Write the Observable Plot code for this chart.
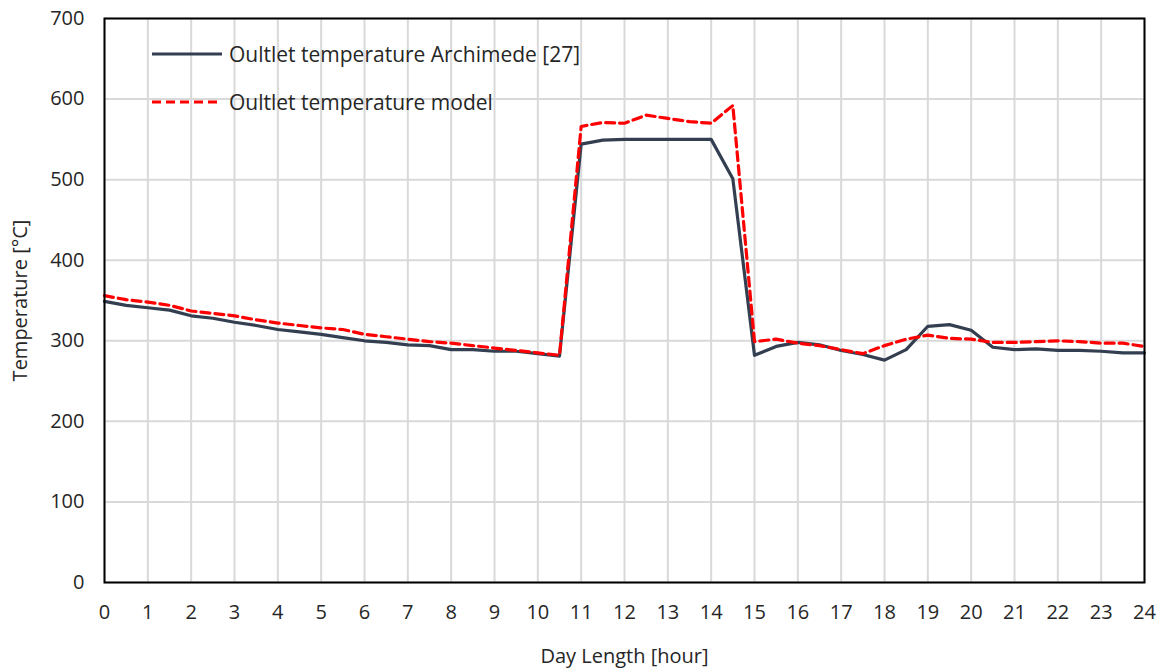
<!DOCTYPE html>
<html>
<head>
<meta charset="utf-8">
<script src="https://cdn.jsdelivr.net/npm/d3@7"></script>
<script src="https://cdn.jsdelivr.net/npm/@observablehq/plot@0.6"></script>
<style>
  html, body { margin: 0; padding: 0; background: #fff; }
  #wrap { position: relative; width: 1170px; height: 670px; font-family: "Open Sans", sans-serif; }
  .legend { position: absolute; left: 152px; top: 30px; font-size: 21px; color: #262626; }
  .legend .row { display: flex; align-items: center; height: 48px; }
  .legend svg { margin-right: 5px; }
</style>
</head>
<body>
<div id="wrap"></div>
<script>
// Hours of the day, sampled every half hour
const hours = [0,0.5,1,1.5,2,2.5,3,3.5,4,4.5,5,5.5,6,6.5,7,7.5,8,8.5,9,9.5,10,10.5,11,11.5,12,12.5,13,13.5,14,14.5,15,15.5,16,16.5,17,17.5,18,18.5,19,19.5,20,20.5,21,21.5,22,22.5,23,23.5,24];

// Outlet temperature measured at the Archimede plant [°C]
const archimede = [349,344,341,338,331,328,323,319,314,311,308,304,300,298,295,294,289,289,287,287,284,281,
  544,549,550,550,550,550,550,501,282,293,298,295,288,283,276,289,318,320,313,292,289,290,288,288,287,285,285];

// Outlet temperature predicted by the model [°C]
const model = [356,351,348,344,337,334,331,326,322,319,316,314,308,305,302,299,297,294,291,288,285,282,
  566,571,570,580,576,572,570,592,299,302,297,294,289,284,294,302,307,303,302,298,298,299,300,299,297,297,293];

const xTicks = d3.range(0, 25, 1);
const yTicks = d3.range(0, 701, 100);

const seriesNames = ["Oultlet temperature Archimede [27]", "Oultlet temperature model"];
const rows = hours.map((h, i) => ({hour: h, archimede: archimede[i], model: model[i]}));

const chart = Plot.plot({
  width: 1170,
  height: 670,
  marginLeft: 104,
  marginRight: 26,
  marginTop: 18,
  marginBottom: 88,
  style: {fontFamily: "'Open Sans', sans-serif", fontSize: "20px", color: "#262626", background: "#fff"},
  x: {domain: [0, 24]},
  y: {domain: [0, 700]},
  marks: [
    Plot.gridX(xTicks, {stroke: "#d9d9d9", strokeOpacity: 1, strokeWidth: 2}),
    Plot.gridY(yTicks, {stroke: "#d9d9d9", strokeOpacity: 1, strokeWidth: 2}),
    Plot.axisX(xTicks, {tickSize: 0, tickPadding: 22, tickFormat: d => String(d),
      label: "Day Length [hour]", labelAnchor: "center", labelArrow: "none", labelOffset: 80}),
    Plot.axisY(yTicks, {tickSize: 0, tickPadding: 20, tickFormat: d => String(d),
      label: "Temperature [°C]", labelAnchor: "center", labelArrow: "none", labelOffset: 92}),
    Plot.line(rows, {x: "hour", y: "archimede", stroke: "#333f50", strokeWidth: 3.2, strokeLinejoin: "round"}),
    Plot.line(rows, {x: "hour", y: "model", stroke: "#ff0000", strokeWidth: 3.2, strokeDasharray: "9,5"}),
    Plot.frame({stroke: "#000", strokeWidth: 2})
  ]
});

const wrap = document.getElementById("wrap");
wrap.appendChild(chart);

// Legend drawn over the upper-left corner of the plot
const legend = document.createElement("div");
legend.className = "legend";
const styles = [{stroke: "#333f50", dash: ""}, {stroke: "#ff0000", dash: "9,5"}];
seriesNames.forEach((name, i) => {
  const row = document.createElement("div");
  row.className = "row";
  row.innerHTML = `<svg width="72" height="8"><line x1="0" x2="70" y1="4" y2="4" stroke="${styles[i].stroke}" stroke-width="3.2" stroke-dasharray="${styles[i].dash}"/></svg><span>${name}</span>`;
  legend.appendChild(row);
});
wrap.appendChild(legend);
</script>
</body>
</html>
